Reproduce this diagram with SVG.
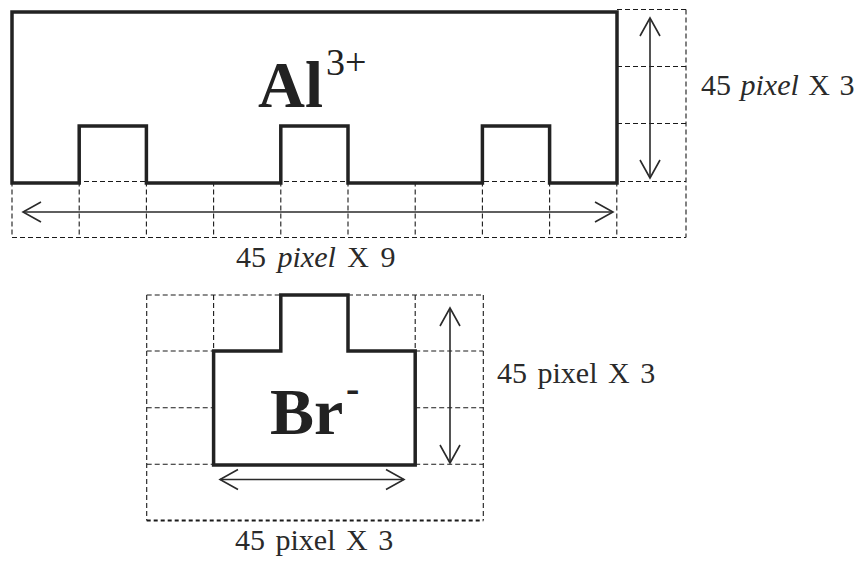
<svg xmlns="http://www.w3.org/2000/svg" width="858" height="561" viewBox="0 0 858 561">
<defs>
<style>
.grid{fill:none;stroke:#1a1a1a;stroke-width:1.1;stroke-dasharray:5 3}
.gridb{fill:none;stroke:#1a1a1a;stroke-width:2.2;stroke-dasharray:4 3}
.shape{fill:#fff;stroke:#222;stroke-width:3.5;stroke-linejoin:miter}
.arr{fill:none;stroke:#2a2a2a;stroke-width:1.6;marker-start:url(#open);marker-end:url(#open)}
text{font-family:'Liberation Serif','Times New Roman',Times,serif}
.lbl{font-size:30px;fill:#2a2a2a}
.big{font-weight:bold;fill:#222}
</style>
<marker id="open" viewBox="-20 -12 22 24" markerWidth="22" markerHeight="24" refX="0" refY="0" orient="auto-start-reverse" markerUnits="userSpaceOnUse">
<path d="M-18,-10 L0,0 L-18,10" fill="none" stroke="#2a2a2a" stroke-width="1.6"/>
</marker>
</defs>
<rect width="858" height="561" fill="#fff"/>

<g id="al-grid">
<path class="grid" d="M12,181.5H686 M12,237.5H686 M617,9.5H686 M617,66.5H686 M617,123.5H686 M686,9.5V237.5 M12,181.5V237.5 M79.2,181.5V237.5 M146.4,181.5V237.5 M213.6,181.5V237.5 M280.8,181.5V237.5 M348,181.5V237.5 M415.2,181.5V237.5 M482.4,181.5V237.5 M549.6,181.5V237.5 M616.8,181.5V237.5"/>
</g>

<g id="al-ion">
<path class="shape" d="M12,12H617V183H549.6V126H482.4V183H348V126H280.8V183H146.4V126H79.2V183H12Z"/>
<text class="big" x="258" y="107" font-size="65">Al</text>
<text x="326" y="75" font-size="38" fill="#222">3+</text>
</g>

<g id="br-grid">
<path class="grid" d="M146.7,295H280.8 M348,295H483.3 M146.7,295V520.5 M483.3,295V520.5 M213.6,295V351 M415.2,295V351 M146.7,351H213.6 M415.2,351H483.3 M146.7,407.7H213.6 M415.2,407.7H483.3 M146.7,464.3H213.6 M415.2,464.3H483.3"/>
<path class="gridb" d="M146.7,520.5H483.3"/>
</g>

<g id="br-ion">
<path class="shape" d="M213.6,351H280.8V295H348V351H415.2V465H213.6Z"/>
<text class="big" x="270" y="434" font-size="66">Br</text>
<text class="big" x="346" y="402" font-size="40">-</text>
</g>

<g id="connectors">
<line class="arr" x1="650" y1="18" x2="650" y2="178"/>
<line class="arr" x1="23" y1="212" x2="613" y2="212"/>
<line class="arr" x1="450" y1="308" x2="450" y2="463"/>
<line class="arr" x1="220" y1="479.5" x2="404" y2="479.5"/>
</g>

<g id="labels">
<text class="lbl" x="701" y="95" word-spacing="2">45 <tspan font-style="italic">pixel</tspan> X 3</text>
<text class="lbl" x="236" y="266.5" word-spacing="4">45 <tspan font-style="italic">pixel</tspan> X 9</text>
<text class="lbl" x="497" y="383" word-spacing="3">45 pixel X 3</text>
<text class="lbl" x="235" y="550" word-spacing="3">45 pixel X 3</text>
</g>
</svg>
